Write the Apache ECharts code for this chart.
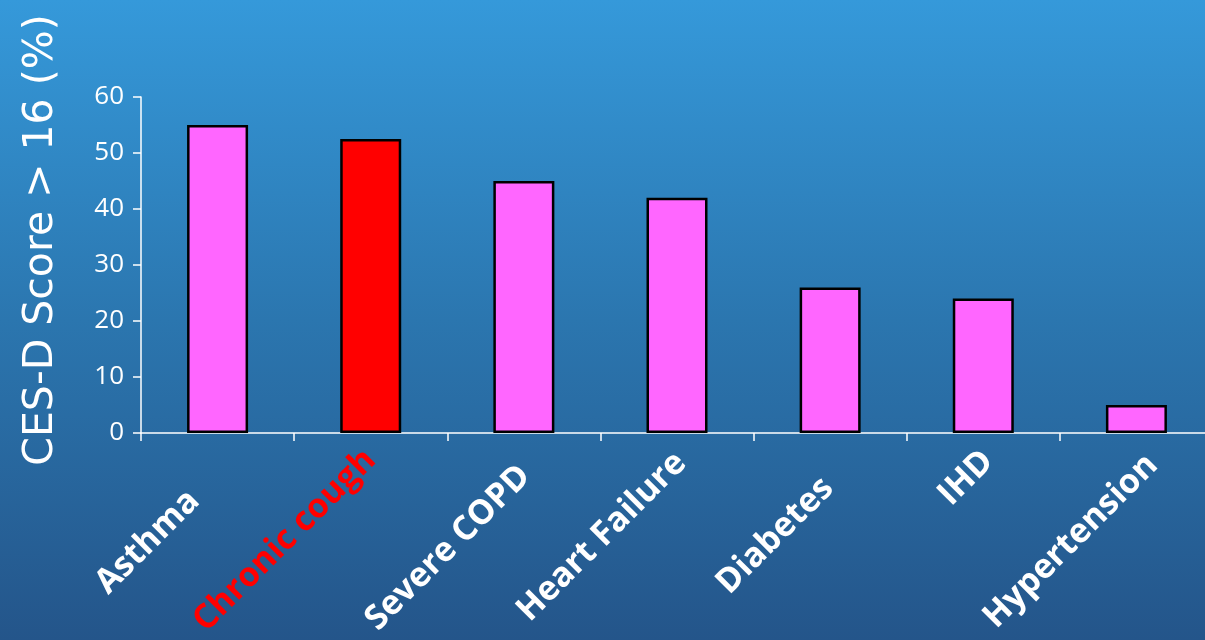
<!DOCTYPE html>
<html>
<head>
<meta charset="utf-8">
<script src="https://cdn.jsdelivr.net/npm/echarts@6/dist/echarts.min.js"></script>
<style>
  html, body { margin: 0; padding: 0; }
  #chart { width: 1205px; height: 640px; }
</style>
</head>
<body>
<div id="chart"></div>
<script>
// Share of patients with a CES-D depression score above 16, by condition
const categories = ['Asthma', 'Chronic cough', 'Severe COPD', 'Heart Failure', 'Diabetes', 'IHD', 'Hypertension'];
const values = [55, 52.5, 45, 42, 26, 24, 5];
const highlighted = 'Chronic cough';
const yTicks = [0, 10, 20, 30, 40, 50, 60];

// Hand placement of the slanted category labels: [top, right] padding in px
const labelPadding = [[40, 53], [15, 8], [40, 18], [25, 7], [52, 29], [24, 5], [45, 0]];

const FONT = '"Open Sans", "Liberation Sans", sans-serif';
const TITLE_FONT = '"DejaVu Sans", "Open Sans", sans-serif';
const PINK = '#FF66FF';
const RED = '#FF0000';

// one rich-text style per category label
const labelRich = {};
categories.forEach(function (c, i) {
  labelRich['p' + i] = {
    fontFamily: FONT,
    fontWeight: 'bold',
    fontSize: 34,
    color: c === highlighted ? RED : '#FFFFFF',
    padding: [labelPadding[i][0], labelPadding[i][1], 0, 0]
  };
});

const chart = echarts.init(document.getElementById('chart'), null, { renderer: 'canvas' });

chart.setOption({
  backgroundColor: new echarts.graphic.LinearGradient(0, 0, 0, 1, [
    { offset: 0, color: '#3599DA' },
    { offset: 0.5, color: '#2B76AF' },
    { offset: 1, color: '#24558A' }
  ]),
  animation: false,
  grid: {
    left: 141, right: -8, top: 97, bottom: 207,
    containLabel: false,
    outerBoundsMode: 'none'
  },
  xAxis: {
    type: 'category',
    data: categories,
    axisLine: { show: true, lineStyle: { color: '#FFFFFF', width: 1.5 } },
    axisTick: { show: true, alignWithLabel: false, length: 8, lineStyle: { color: '#FFFFFF', width: 1.5 } },
    axisLabel: {
      interval: 0,
      rotate: 45,
      margin: 11,
      hideOverlap: false,
      fontFamily: FONT,
      fontWeight: 'bold',
      fontSize: 34,
      color: '#FFFFFF',
      formatter: function (value, index) {
        return '{p' + index + '|' + value + '}';
      },
      rich: labelRich
    }
  },
  yAxis: {
    type: 'value',
    min: yTicks[0],
    max: yTicks[yTicks.length - 1],
    interval: yTicks[1] - yTicks[0],
    name: 'CES-D Score > 16 (%)',
    nameLocation: 'middle',
    nameGap: 79,
    nameTextStyle: {
      fontFamily: TITLE_FONT,
      fontSize: 41,
      color: '#FFFFFF',
      padding: [0, 0, 0, 50]
    },
    axisLine: { show: true, lineStyle: { color: '#FFFFFF', width: 1.5 } },
    axisTick: { show: true, length: 8, lineStyle: { color: '#FFFFFF', width: 1.5 } },
    splitLine: { show: false },
    axisLabel: {
      margin: 17,
      fontFamily: FONT,
      fontSize: 26,
      color: '#FFFFFF'
    }
  },
  series: [{
    type: 'bar',
    barWidth: 61,
    data: categories.map(function (c, i) {
      return {
        value: values[i],
        itemStyle: { color: c === highlighted ? RED : PINK }
      };
    }),
    itemStyle: { borderColor: '#000000', borderWidth: 2.5 }
  }]
});
</script>
</body>
</html>
